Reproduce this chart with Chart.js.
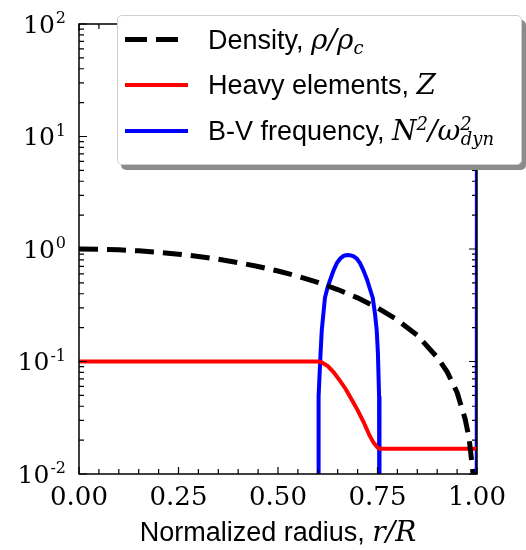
<!DOCTYPE html>
<html>
<head>
<meta charset="utf-8">
<script src="https://cdn.jsdelivr.net/npm/chart.js@4.4.0/dist/chart.umd.min.js"></script>
<style>
  body { margin: 0; background: #fff; }
  #wrap { position: relative; width: 526px; height: 550px; }
  #legend {
    position: absolute; left: 117px; top: 15px; width: 403px; height: 148px;
    background: #fff; border: 1.5px solid #cfcfcf; border-radius: 5px;
    box-shadow: 4px 5px 0 #8c8c8c;
    font-family: "Liberation Sans", Arial, sans-serif; font-size: 27px; color: #000;
  }
  .row { position: absolute; left: 0; height: 30px; width: 100%; }
  .smp { position: absolute; left: 7px; width: 63px; top: 13px; height: 4px; }
  .txt { position: absolute; left: 90px; top: 0; line-height: 30px; white-space: nowrap; }
  .m { font-family: "DejaVu Serif", serif; font-style: italic; font-size: 28px; }
  .up { position: relative; top: -10px; font-size: 18px; }
  .dn { position: relative; top: 5px; font-size: 18px; }
  #xtitle {
    position: absolute; left: 0; width: 556px; top: 517px; line-height: 30px; text-align: center;
    font-family: "Liberation Sans", Arial, sans-serif; font-size: 27px; white-space: nowrap;
  }
</style>
</head>
<body>
<div id="wrap">
  <canvas id="c" width="526" height="550"></canvas>
  <div id="legend">
    <div class="row" style="top:9px">
      <div class="smp" style="height:5px;top:12px;background:linear-gradient(90deg,#000 0 22px,transparent 22px 31px,#000 31px 53px,transparent 53px);"></div>
      <div class="txt">Density, <span class="m">ρ/ρ<span class="dn">c</span></span></div>
    </div>
    <div class="row" style="top:54px">
      <div class="smp" style="background:#ff0000"></div>
      <div class="txt">Heavy elements, <span class="m">Z</span></div>
    </div>
    <div class="row" style="top:100px">
      <div class="smp" style="background:#0000ff"></div>
      <div class="txt">B-V frequency, <span class="m">N<span class="up">2</span>/ω<span class="up">2</span><span class="dn" style="margin-left:-11px">dyn</span></span></div>
    </div>
  </div>
  <div id="xtitle">Normalized radius, <span class="m">r/R</span></div>
</div>
<script>
// Densidad normalizada rho/rho_c
const densR   = [0, 0.05, 0.1, 0.15, 0.2, 0.25, 0.3, 0.35, 0.4, 0.45, 0.5, 0.55, 0.6, 0.65, 0.7, 0.75, 0.8, 0.85, 0.9, 0.925, 0.95, 0.97, 0.98, 0.99, 0.995];
const densVal = [1.0, 0.996, 0.984, 0.963, 0.935, 0.9, 0.858, 0.81, 0.757, 0.699, 0.637, 0.572, 0.505, 0.436, 0.368, 0.3, 0.234, 0.171, 0.109, 0.081, 0.053, 0.031, 0.021, 0.0101, 0.005];

// Elementos pesados Z
const zR   = [0, 0.6, 0.61, 0.625, 0.64, 0.655, 0.67, 0.685, 0.7, 0.715, 0.73, 0.74, 0.75, 0.755, 1.0];
const zVal = [0.1, 0.1, 0.098, 0.091, 0.08, 0.068, 0.057, 0.046, 0.037, 0.029, 0.022, 0.019, 0.0172, 0.0168, 0.0168];

// Frecuencia de Brunt-Väisälä N^2/w_dyn^2
const nR   = [0.601, 0.601, 0.603, 0.607, 0.61, 0.618, 0.625, 0.631, 0.64, 0.648, 0.656, 0.664, 0.67, 0.676, 0.683, 0.69, 0.698, 0.706, 0.715, 0.724, 0.732, 0.738, 0.744, 0.748, 0.751, 0.754, 0.755, 0.755, 0.999, 1.0];
const nVal = [0.00001, 0.012, 0.049, 0.12, 0.19, 0.37, 0.46, 0.53, 0.65, 0.75, 0.82, 0.865, 0.88, 0.885, 0.878, 0.86, 0.82, 0.75, 0.64, 0.53, 0.43, 0.37, 0.26, 0.19, 0.12, 0.049, 0.012, 0.00001, 0.00001, 1000];

// Ticks
const xMajor = [0, 0.25, 0.5, 0.75, 1.0];
const xLabels = ['0.00', '0.25', '0.50', '0.75', '1.00'];
const yMajor = [0.01, 0.1, 1, 10, 100];
const yExp = ['-2', '-1', '0', '1', '2'];

const pts = (xs, ys) => xs.map((x, i) => ({ x: x, y: ys[i] }));

const frame = {
  id: 'frame',
  afterDatasetsDraw(chart) {
    const { ctx, chartArea: a, scales: { x, y } } = chart;
    ctx.save();
    ctx.strokeStyle = '#000';
    ctx.lineWidth = 1.5;
    ctx.strokeRect(a.left, a.top, a.right - a.left, a.bottom - a.top);
    ctx.lineWidth = 1.2;
    ctx.beginPath();
    // x ticks (hacia adentro, abajo y arriba)
    for (let k = 0; k <= 20; k++) {
      const v = k * 0.05;
      const px = x.getPixelForValue(v);
      const len = (k % 5 === 0) ? 7 : 5;
      ctx.moveTo(px, a.bottom); ctx.lineTo(px, a.bottom - len);
      ctx.moveTo(px, a.top); ctx.lineTo(px, a.top + len);
    }
    // y ticks log
    for (let d = -2; d <= 2; d++) {
      for (let m = 1; m <= 9; m++) {
        if (d === 2 && m > 1) break;
        const v = m * Math.pow(10, d);
        const py = y.getPixelForValue(v);
        const len = m === 1 ? 8 : 5;
        ctx.moveTo(a.left, py); ctx.lineTo(a.left + len, py);
        ctx.moveTo(a.right, py); ctx.lineTo(a.right - len, py);
      }
    }
    ctx.stroke();

    ctx.fillStyle = '#000';
    ctx.font = '26px "DejaVu Serif"';
    ctx.textAlign = 'center';
    ctx.textBaseline = 'middle';
    xMajor.forEach((v, i) => ctx.fillText(xLabels[i], x.getPixelForValue(v), a.bottom + 24));

    yMajor.forEach((v, i) => {
      const py = y.getPixelForValue(v);
      ctx.font = '16px "DejaVu Serif"';
      ctx.textAlign = 'right';
      ctx.textBaseline = 'alphabetic';
      const ew = ctx.measureText(yExp[i]).width;
      ctx.fillText(yExp[i], 66, py - 1);
      ctx.font = '25px "DejaVu Serif"';
      ctx.textBaseline = 'middle';
      ctx.fillText('10', 66 - ew - 1, py + 2);
    });
    ctx.restore();
  }
};

new Chart(document.getElementById('c'), {
  type: 'line',
  data: {
    datasets: [
      { data: pts(densR, densVal), borderColor: '#000', borderWidth: 5, borderDash: [19, 9], pointRadius: 0, clip: 0, tension: 0 },
      { data: pts(zR, zVal), borderColor: '#ff0000', borderWidth: 4, pointRadius: 0, clip: 0, tension: 0 },
      { data: pts(nR, nVal), borderColor: '#0000ff', borderWidth: 4, pointRadius: 0, clip: 0, tension: 0 }
    ]
  },
  options: {
    responsive: false,
    animation: false,
    layout: { padding: { left: 0, top: 24, right: 49, bottom: 0 } },
    plugins: { legend: { display: false }, tooltip: { enabled: false } },
    scales: {
      x: {
        type: 'linear', min: 0, max: 1,
        grid: { display: false }, border: { display: false },
        ticks: { display: false },
        afterFit(s) { s.height = 76; }
      },
      y: {
        type: 'logarithmic', min: 0.01, max: 100,
        grid: { display: false }, border: { display: false },
        ticks: { display: false },
        afterFit(s) { s.width = 79; }
      }
    }
  },
  plugins: [frame]
});
</script>
</body>
</html>
